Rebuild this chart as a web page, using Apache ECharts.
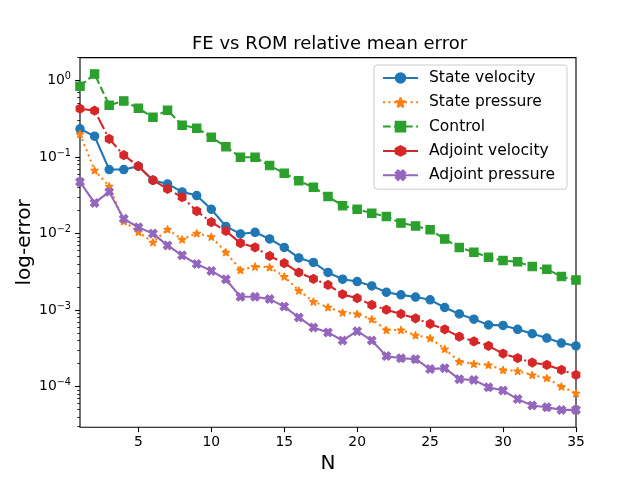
<!DOCTYPE html>
<html>
<head>
<meta charset="utf-8">
<title>FE vs ROM relative mean error</title>
<script src="https://cdn.jsdelivr.net/npm/echarts@6.0.0/dist/echarts.min.js"></script>
<style>
  html, body { margin: 0; padding: 0; background: #fff; }
  #chart { width: 640px; height: 480px; }
</style>
</head>
<body>
<div id="chart"></div>
<script>
const FONT = "DejaVu Sans";

// reduced basis dimension
const nValues = [1, 2, 3, 4, 5, 6, 7, 8, 9, 10, 11, 12, 13, 14, 15, 16, 17, 18,
  19, 20, 21, 22, 23, 24, 25, 26, 27, 28, 29, 30, 31, 32, 33, 34, 35];

// relative mean errors
const stateVelocity = [0.234, 0.1875, 0.0687, 0.0687, 0.076, 0.0499, 0.0446, 0.0351, 0.0314, 0.0208,
  0.0124, 0.0099, 0.0104, 0.0085, 0.0066, 0.0048, 0.0042, 0.0031, 0.00253, 0.00236,
  0.00207, 0.00171, 0.00158, 0.00148, 0.00136, 0.00108, 0.00089, 0.00076, 0.00064, 0.00063,
  0.00056, 0.00049, 0.00043, 0.00037, 0.00034];
const statePressure = [0.201, 0.0674, 0.0416, 0.0145, 0.0105, 0.0077, 0.0114, 0.0084, 0.0101, 0.0091,
  0.0057, 0.00335, 0.0037, 0.00363, 0.00274, 0.0018, 0.00129, 0.00109, 0.00093, 0.00089,
  0.00076, 0.00055, 0.00055, 0.00047, 0.00043, 0.00031, 0.000212, 0.000198, 0.000192, 0.000165,
  0.00016, 0.000142, 0.000129, 0.0001, 0.000082];
const control = [0.845, 1.22, 0.477, 0.543, 0.435, 0.332, 0.41, 0.261, 0.239, 0.182,
  0.137, 0.0997, 0.0997, 0.0774, 0.0615, 0.0489, 0.0404, 0.0305, 0.0232, 0.0208,
  0.0185, 0.0167, 0.0137, 0.0126, 0.0112, 0.0085, 0.0066, 0.0057, 0.0049, 0.00444,
  0.00427, 0.0037, 0.00342, 0.00274, 0.00248];
const adjointVelocity = [0.43, 0.405, 0.173, 0.106, 0.076, 0.0499, 0.0384, 0.0299, 0.0197, 0.0141,
  0.0108, 0.0075, 0.0066, 0.0051, 0.0041, 0.0031, 0.00256, 0.00213, 0.00161, 0.00143,
  0.00117, 0.00101, 0.00089, 0.00078, 0.00066, 0.00056, 0.00045, 0.00039, 0.00034, 0.00027,
  0.000235, 0.000206, 0.000192, 0.000165, 0.000142];
const adjointPressure = [0.0474, 0.0252, 0.0351, 0.0156, 0.0121, 0.01, 0.007, 0.0052, 0.004, 0.00325,
  0.00253, 0.00149, 0.00149, 0.00139, 0.00111, 0.0008, 0.00059, 0.00051, 0.0004, 0.00053,
  0.0004, 0.00025, 0.000235, 0.000228, 0.000169, 0.000174, 0.000125, 0.000122, 0.000098, 0.0000887,
  0.0000685, 0.0000565, 0.0000537, 0.0000495, 0.0000495];

// axis ticks
const xTicks = [5, 10, 15, 20, 25, 30, 35];
const yMajorTicks = [1e-4, 1e-3, 1e-2, 1e-1, 1];
const yMinorTicks = [3e-5, 4e-5, 5e-5, 6e-5, 7e-5, 8e-5, 9e-5,
  2e-4, 3e-4, 4e-4, 5e-4, 6e-4, 7e-4, 8e-4, 9e-4,
  2e-3, 3e-3, 4e-3, 5e-3, 6e-3, 7e-3, 8e-3, 9e-3,
  2e-2, 3e-2, 4e-2, 5e-2, 6e-2, 7e-2, 8e-2, 9e-2,
  2e-1, 3e-1, 4e-1, 5e-1, 6e-1, 7e-1, 8e-1, 9e-1, 2];

// matplotlib marker shapes
const STAR = "path://M100,0 L77.55,69.1 L4.89,69.1 L63.67,111.8 L41.22,180.9 L100,138.2 L158.78,180.9 L136.33,111.8 L195.11,69.1 L122.45,69.1 Z";
const HEXAGON = "path://M86.6,0 L0,50 L0,150 L86.6,200 L173.2,150 L173.2,50 Z";
const XFILLED = "path://M1,0 L2,1 L3,0 L4,1 L3,2 L4,3 L3,4 L2,3 L1,4 L0,3 L1,2 L0,1 Z";

const LW = 2.08;

function pairs(vals) {
  return nValues.map((n, i) => [n, vals[i]]);
}

function powLabel(v) {
  const e = Math.round(Math.log10(v));
  return "10{sup|" + (e < 0 ? "\u2212" + (-e) : e) + "}";
}

function makeSeries(name, vals, color, symbol, size, dash, join) {
  return {
    name: name,
    type: "line",
    data: pairs(vals),
    symbol: symbol,
    symbolSize: size,
    symbolKeepAspect: true,
    showSymbol: true,
    itemStyle: { color: color, borderColor: color, borderWidth: 1.2, borderJoin: join || "miter" },
    lineStyle: { color: color, width: LW, type: dash },
    emphasis: { disabled: true },
  };
}

const chart = echarts.init(document.getElementById("chart"));

chart.setOption({
  animation: false,
  textStyle: { fontFamily: FONT },
  title: {
    text: "FE vs ROM relative mean error",
    left: 187,
    top: 30,
    textStyle: { fontFamily: FONT, fontSize: 18, fontWeight: "normal", color: "#000" },
  },
  legend: {
    orient: "vertical",
    left: 374,
    top: 65,
    padding: [5, 12, 6, 8],
    itemWidth: 35,
    itemHeight: 12,
    itemGap: 8.3,
    backgroundColor: "rgba(255,255,255,0.8)",
    borderColor: "#cccccc",
    borderWidth: 1,
    borderRadius: 3,
    textStyle: { fontFamily: FONT, fontSize: 15.5, lineHeight: 16, color: "#000", padding: [0, 0, 0, 6] },
    data: ["State velocity", "State pressure", "Control", "Adjoint velocity", "Adjoint pressure"],
  },
  grid: {
    left: 80, right: 64, top: 57.6, bottom: 52.8,
    show: true, borderColor: "#000", borderWidth: 1.1, backgroundColor: "transparent",
  },
  xAxis: {
    type: "value",
    min: 1,
    max: 35,
    name: "N",
    nameLocation: "middle",
    nameGap: 25,
    nameTextStyle: { fontFamily: FONT, fontSize: 20, color: "#000" },
    axisLine: { show: false },
    splitLine: { show: false },
    axisTick: { show: true, length: 4.9, lineStyle: { color: "#000", width: 1.1 }, customValues: xTicks },
    axisLabel: { fontFamily: FONT, fontSize: 13.9, color: "#000", margin: 8, customValues: xTicks },
  },
  yAxis: [
    {
      type: "log",
      min: 2.94e-5,
      max: 2.0,
      name: "log-error",
      nameLocation: "middle",
      nameGap: 45,
      nameRotate: 90,
      nameMoveOverlap: false,
      nameTextStyle: { fontFamily: FONT, fontSize: 20, color: "#000" },
      axisLine: { show: false },
      splitLine: { show: false },
      minorTick: { show: false },
      axisTick: { show: true, length: 4.9, lineStyle: { color: "#000", width: 1.1 }, customValues: yMajorTicks },
      axisLabel: {
        fontFamily: FONT, fontSize: 13.9, lineHeight: 18, color: "#000", margin: 9,
        customValues: yMajorTicks,
        formatter: powLabel,
        rich: { sup: { fontFamily: FONT, fontSize: 9.7, lineHeight: 10, verticalAlign: "top", color: "#000" } },
      },
    },
    {
      type: "log",
      min: 2.94e-5,
      max: 2.0,
      position: "left",
      axisLine: { show: false },
      splitLine: { show: false },
      axisTick: { show: true, length: 2.8, lineStyle: { color: "#000", width: 0.8 }, customValues: yMinorTicks },
      axisLabel: { show: false },
    },
  ],
  series: [
    makeSeries("State velocity", stateVelocity, "#1f77b4", "circle", 8.3, "solid"),
    makeSeries("State pressure", statePressure, "#ff7f0e", STAR, 8, [2.08, 3.44], "bevel"),
    makeSeries("Control", control, "#2ca02c", "rect", 8.3, [7.71, 3.33]),
    makeSeries("Adjoint velocity", adjointVelocity, "#d62728", HEXAGON, 8.8, [13.3, 3.33, 2.08, 3.33]),
    makeSeries("Adjoint pressure", adjointPressure, "#9467bd", XFILLED, 8.3, "solid"),
  ],
});
</script>
</body>
</html>
